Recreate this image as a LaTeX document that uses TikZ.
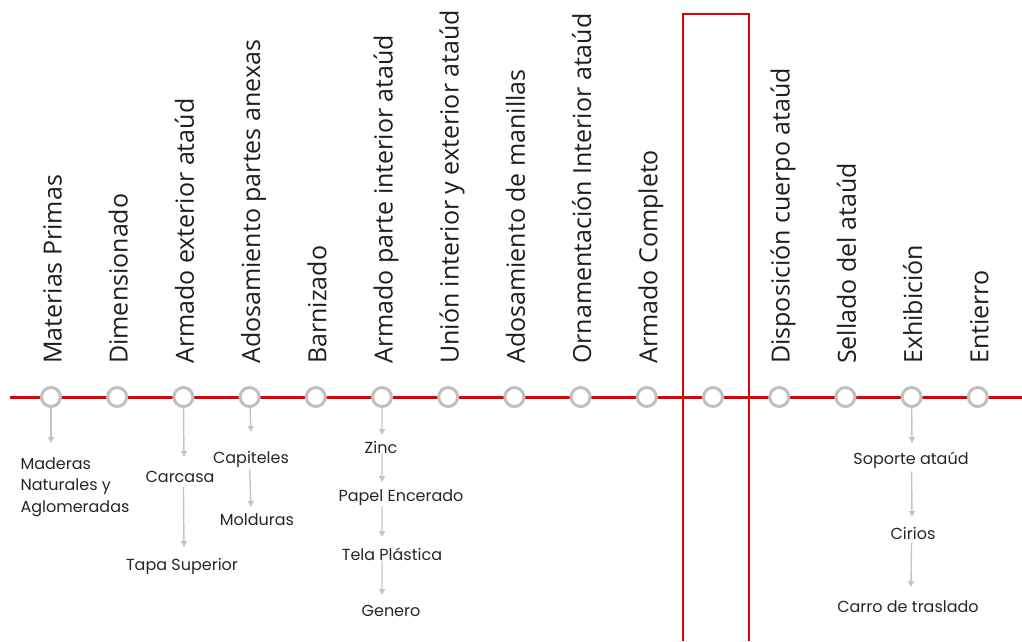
\documentclass[tikz,border=0pt]{standalone}
\usepackage{fontspec}
\setmainfont{Poppins}
\newfontfamily\vfont{Open Sans}
\usetikzlibrary{arrows.meta}
\definecolor{linered}{RGB}{228,0,0}
\definecolor{ringgray}{RGB}{192,192,192}
\definecolor{arrowgray}{RGB}{196,196,196}
\definecolor{textdark}{RGB}{30,30,30}
\definecolor{subtext}{RGB}{38,38,38}
\begin{document}
\begin{tikzpicture}[x=1pt,y=-1pt,
  stage/.style={circle, draw=ringgray, line width=3pt, fill=white, minimum size=19pt, inner sep=0pt},
  vlabel/.style={rotate=90, anchor=base west, inner sep=0pt, text=textdark, font=\vfont\fontsize{25}{30}\selectfont},
  sub/.style={inner sep=0pt, text=subtext, font=\fontsize{16}{21.5}\selectfont},
  flow/.style={draw=arrowgray, line width=1.4pt, -{Triangle[length=6pt,width=6pt]}}
]
\useasboundingbox (0,0) rectangle (1022,641);
% red box
\draw[linered, line width=1.2pt] (683,641) -- (683,14) -- (749,14) -- (749,641);
% timeline
\coordinate (lstart) at (10,397);
\coordinate (lend) at (1022,397);
\draw[linered, line width=3pt] (lstart) -- (lend);
% stages
\foreach \i/\lab in {1/Materias Primas, 2/Dimensionado, 3/Armado exterior ataúd, 4/Adosamiento partes anexas, 5/Barnizado, 6/Armado parte interior ataúd, 7/Unión interior y exterior ataúd, 8/Adosamiento de manillas, 9/Ornamentación Interior ataúd, 10/Armado Completo, 11/, 12/Disposición cuerpo ataúd, 13/Sellado del ataúd, 14/Exhibición, 15/Entierro}{
  \pgfmathsetmacro{\cx}{51+66.2*(\i-1)}
  \node[stage] (c\i) at (\cx,397) {};
  \node[vlabel] (v\i) at (\cx+10.5,364) {\lab};
}
% column 1
\coordinate (t1a) at (51,443);
\draw[flow] (c1) -- (t1a);
\node[sub, align=left] (mad) at (75,487) {Maderas\\Naturales y\\Aglomeradas};
% column 3
\coordinate (t3a) at (184,457);
\draw[flow] (c3) -- (t3a);
\node[sub] (carc) at (180,477) {Carcasa};
\coordinate (t3b) at (184,547);
\draw[flow, shorten <=4pt] (c3 |- carc.south) -- (t3b);
\node[sub] (tapa) at (182,566) {Tapa Superior};
% column 4
\coordinate (t4a) at (251,432);
\draw[flow] (c4) -- (t4a);
\node[sub] (capi) at (251,459) {Capiteles};
\coordinate (t4b) at (251,507);
\draw[flow, shorten <=2pt] (c4 |- capi.south) -- (t4b);
\node[sub] (mold) at (257,520) {Molduras};
% column 6
\coordinate (t6a) at (382,435);
\draw[flow] (c6) -- (t6a);
\node[sub] (zinc) at (381,447) {Zinc};
\coordinate (t6b) at (382,482);
\draw[flow] (c6 |- zinc.south) -- (t6b);
\node[sub] (papel) at (401,498) {Papel Encerado};
\coordinate (t6c) at (382,537);
\draw[flow] (c6 |- papel.south) -- (t6c);
\node[sub] (tela) at (392,554) {Tela Plástica};
\coordinate (t6d) at (382,595);
\draw[flow] (c6 |- tela.south) -- (t6d);
\node[sub] (gen) at (391,611) {Genero};
% column 14
\coordinate (t14a) at (912,443);
\draw[flow] (c14) -- (t14a);
\node[sub] (sop) at (911,460) {Soporte ataúd};
\coordinate (t14b) at (912,517);
\draw[flow, shorten <=3pt] (c14 |- sop.south) -- (t14b);
\node[sub] (cir) at (913,533) {Cirios};
\coordinate (t14c) at (911,587);
\draw[flow, shorten <=3pt] (c14 |- cir.south) -- (t14c);
\node[sub] (carro) at (908,607) {Carro de traslado};
\end{tikzpicture}
\end{document}
